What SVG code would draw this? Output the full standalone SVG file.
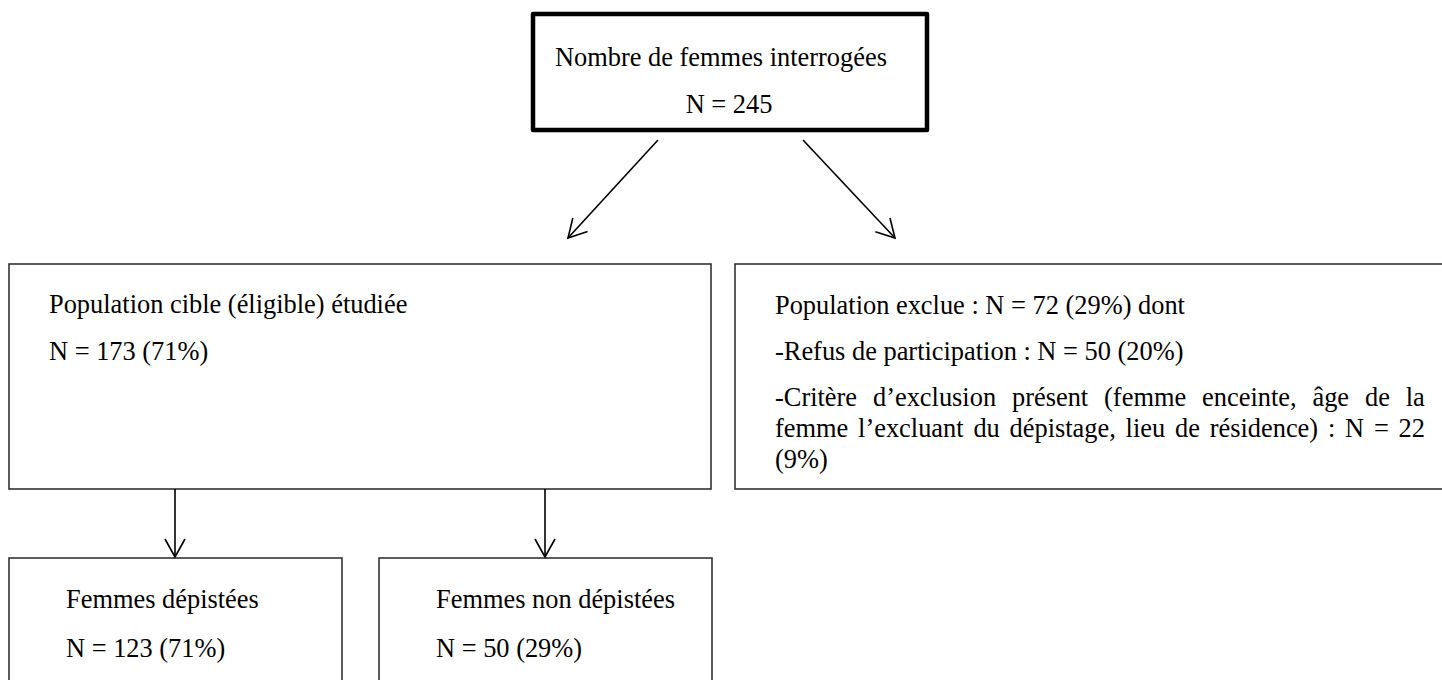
<svg xmlns="http://www.w3.org/2000/svg" width="1442" height="680" viewBox="0 0 1442 680">
<defs>
<style>
text { font-family: "Liberation Serif", "Times New Roman", serif; font-size: 26.4px; fill: #000; }
.box { fill: #fff; stroke: #333; stroke-width: 1.6; }
.main { fill: #fff; stroke: #000; stroke-width: 4.5; stroke-linejoin: round; }
.conn { stroke: #000; stroke-width: 1.6; fill: none; marker-end: url(#arr); }
</style>
<marker id="arr" markerUnits="userSpaceOnUse" viewBox="-21 -12 23 24" markerWidth="23" markerHeight="24" refX="0" refY="0" orient="auto">
<path d="M-18,-10 L0,0 L-18,10" fill="none" stroke="#000" stroke-width="1.6"/>
</marker>
</defs>
<rect width="1442" height="680" fill="#fff"/>
<g id="node-total">
<rect class="main" x="533" y="14" width="394" height="116"/>
<text x="555" y="66">Nombre de femmes interrogées</text>
<text x="729" y="113" text-anchor="middle">N = 245</text>
</g>
<g id="node-cible">
<rect class="box" x="9" y="264" width="702" height="225"/>
<text x="49" y="313">Population cible (éligible) étudiée</text>
<text x="49" y="360">N = 173 (71%)</text>
</g>
<g id="node-exclue">
<rect class="box" x="735" y="264" width="720" height="225"/>
<text x="775" y="314">Population exclue : N = 72 (29%) dont</text>
<text x="775" y="360">-Refus de participation : N = 50 (20%)</text>
<text x="775" y="406" word-spacing="9.3">-Critère d’exclusion présent (femme enceinte, âge de la</text>
<text x="775" y="437" word-spacing="3.2">femme l’excluant du dépistage, lieu de résidence) : N = 22</text>
<text x="775" y="468">(9%)</text>
</g>
<g id="node-depistees">
<rect class="box" x="9" y="558" width="333" height="140"/>
<text x="66" y="608">Femmes dépistées</text>
<text x="66" y="657">N = 123 (71%)</text>
</g>
<g id="node-non-depistees">
<rect class="box" x="379" y="558" width="333" height="140"/>
<text x="436" y="608">Femmes non dépistées</text>
<text x="436" y="657">N = 50 (29%)</text>
</g>
<g id="connectors">
<line class="conn" x1="658" y1="140" x2="568" y2="238"/>
<line class="conn" x1="803" y1="140" x2="895" y2="238"/>
<line class="conn" x1="175" y1="489" x2="175" y2="557"/>
<line class="conn" x1="545" y1="489" x2="545" y2="557"/>
</g>
</svg>
